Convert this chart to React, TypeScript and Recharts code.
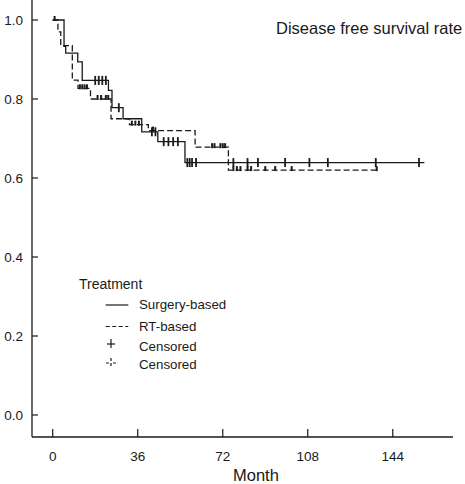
import React from "react";
import { ComposedChart, Line, Scatter, XAxis, YAxis } from "recharts";

// survival steps (month, survival after event)
const surgeryMonths = [0, 4.8, 5.5, 10.6, 12.5, 23.6, 25.1, 29.8, 37.7, 44.5, 56, 157.4];
const surgerySurv = [1.0, 0.933, 0.916, 0.894, 0.847, 0.822, 0.778, 0.75, 0.717, 0.692, 0.639, 0.639];
const surgeryCensored = [18, 19.5, 21, 22.5, 28, 42, 43.5, 47, 49, 51, 53, 57, 58, 59, 60.7, 76.5, 82.5, 86.9, 98.4, 108.7, 116.5, 136.8, 155.1];

const rtMonths = [0, 2.2, 3.4, 8.3, 10.7, 16, 24.7, 32.5, 40.5, 60.3, 74.4, 137.2];
const rtSurv = [1.0, 0.97, 0.935, 0.848, 0.827, 0.8, 0.75, 0.735, 0.72, 0.678, 0.62, 0.62];
const rtCensored = [0.8, 11.5, 12.5, 13.5, 14.5, 19, 20.5, 22.5, 23.5, 33.5, 35, 36.5, 42.5, 67.5, 68.5, 71, 72, 73, 76.5, 78, 79.5, 82.5, 84, 90, 94.2, 101.2, 137.2];

const xTicks = [0, 36, 72, 108, 144];
const yTicks = [0, 0.2, 0.4, 0.6, 0.8, 1.0];

const INK = "#1a1a1a";
const FONT = "'Liberation Sans', Arial, Helvetica, sans-serif";

const toSteps = (months: number[], surv: number[]) =>
  months.map((m, i) => ({ month: m, s: surv[i] }));

// survival at a censor time, looked up on the step curve
const atTime = (months: number[], surv: number[], t: number) => {
  let s = surv[0];
  for (let i = 0; i < months.length; i++) if (months[i] <= t) s = surv[i];
  return s;
};

const surgeryData = toSteps(surgeryMonths, surgerySurv);
const rtData = toSteps(rtMonths, rtSurv);
const surgeryMarks = surgeryCensored.map((m) => ({ month: m, s: atTime(surgeryMonths, surgerySurv, m) }));
const rtMarks = rtCensored.map((m) => ({ month: m, s: atTime(rtMonths, rtSurv, m) }));

const SolidTick = (p: any) => (
  <line x1={p.cx} x2={p.cx} y1={p.cy - 4.5} y2={p.cy + 4.5} stroke={INK} strokeWidth={1.8} />
);
const DashTick = (p: any) => (
  <rect x={p.cx - 1} y={p.cy - 4} width={2} height={5} fill={INK} />
);

export default function App() {
  return (
    <div style={{ position: "relative", width: 465, height: 484, fontFamily: FONT, color: INK }}>
      <style>{"body{margin:0}"}</style>
      <ComposedChart width={465} height={484} margin={{ top: 0, right: 12, bottom: 0, left: 0 }} style={{ fontFamily: FONT }}>
        <XAxis
          dataKey="month"
          type="number"
          domain={[-8.77, 169.5]}
          ticks={xTicks}
          allowDataOverflow
          height={47}
          tickSize={-8}
          tickMargin={22}
          tick={{ fontSize: 13.5, fill: INK }}
          tickLine={{ stroke: INK, strokeWidth: 1.2 }}
          axisLine={{ stroke: INK, strokeWidth: 1.3 }}
        />
        <YAxis
          dataKey="s"
          type="number"
          domain={[-0.0557, 1.0506]}
          ticks={yTicks}
          allowDataOverflow
          width={32}
          tickSize={-6}
          tickMargin={15}
          tickFormatter={(v: number) => v.toFixed(1)}
          tick={{ fontSize: 13.5, fill: INK }}
          tickLine={{ stroke: INK, strokeWidth: 1.2 }}
          axisLine={{ stroke: INK, strokeWidth: 1.3 }}
        />
        <Line data={surgeryData} dataKey="s" type="stepAfter" stroke={INK} strokeWidth={1.3} dot={false} activeDot={false} isAnimationActive={false} />
        <Line data={rtData} dataKey="s" type="stepAfter" stroke={INK} strokeWidth={1.3} strokeDasharray="6 3" dot={false} activeDot={false} isAnimationActive={false} />
        <Scatter data={surgeryMarks} dataKey="s" shape={SolidTick} isAnimationActive={false} />
        <Scatter data={rtMarks} dataKey="s" shape={DashTick} isAnimationActive={false} />
      </ComposedChart>

      <div style={{ position: "absolute", left: 276, top: 20, fontSize: 16.5, lineHeight: "16.5px", whiteSpace: "nowrap" }}>
        Disease free survival rate
      </div>
      <div style={{ position: "absolute", left: 233, top: 467, fontSize: 16.5, lineHeight: "16.5px" }}>Month</div>

      {/* legend */}
      <div style={{ position: "absolute", left: 79, top: 277, fontSize: 14, lineHeight: "14px" }}>Treatment</div>
      <svg style={{ position: "absolute", left: 100, top: 295 }} width={36} height={80}>
        <line x1={5.7} x2={28.3} y1={10} y2={10} stroke={INK} strokeWidth={1.2} />
        <line x1={5.7} x2={28.3} y1={31.5} y2={31.5} stroke={INK} strokeWidth={1.2} strokeDasharray="4 2.5" />
        <line x1={7} x2={15} y1={49} y2={49} stroke={INK} strokeWidth={1.2} />
        <line x1={11} x2={11} y1={44} y2={53} stroke={INK} strokeWidth={1.2} />
        <line x1={6} x2={16} y1={68} y2={68} stroke={INK} strokeWidth={1.2} strokeDasharray="3 4" />
        <line x1={11} x2={11} y1={63} y2={73} stroke={INK} strokeWidth={1.2} strokeDasharray="3 2" />
      </svg>
      {["Surgery-based", "RT-based", "Censored", "Censored"].map((t, i) => (
        <div key={i} style={{ position: "absolute", left: 139, top: [298, 319.5, 340, 358][i], fontSize: 13.3, lineHeight: "14px", whiteSpace: "nowrap" }}>
          {t}
        </div>
      ))}
    </div>
  );
}
